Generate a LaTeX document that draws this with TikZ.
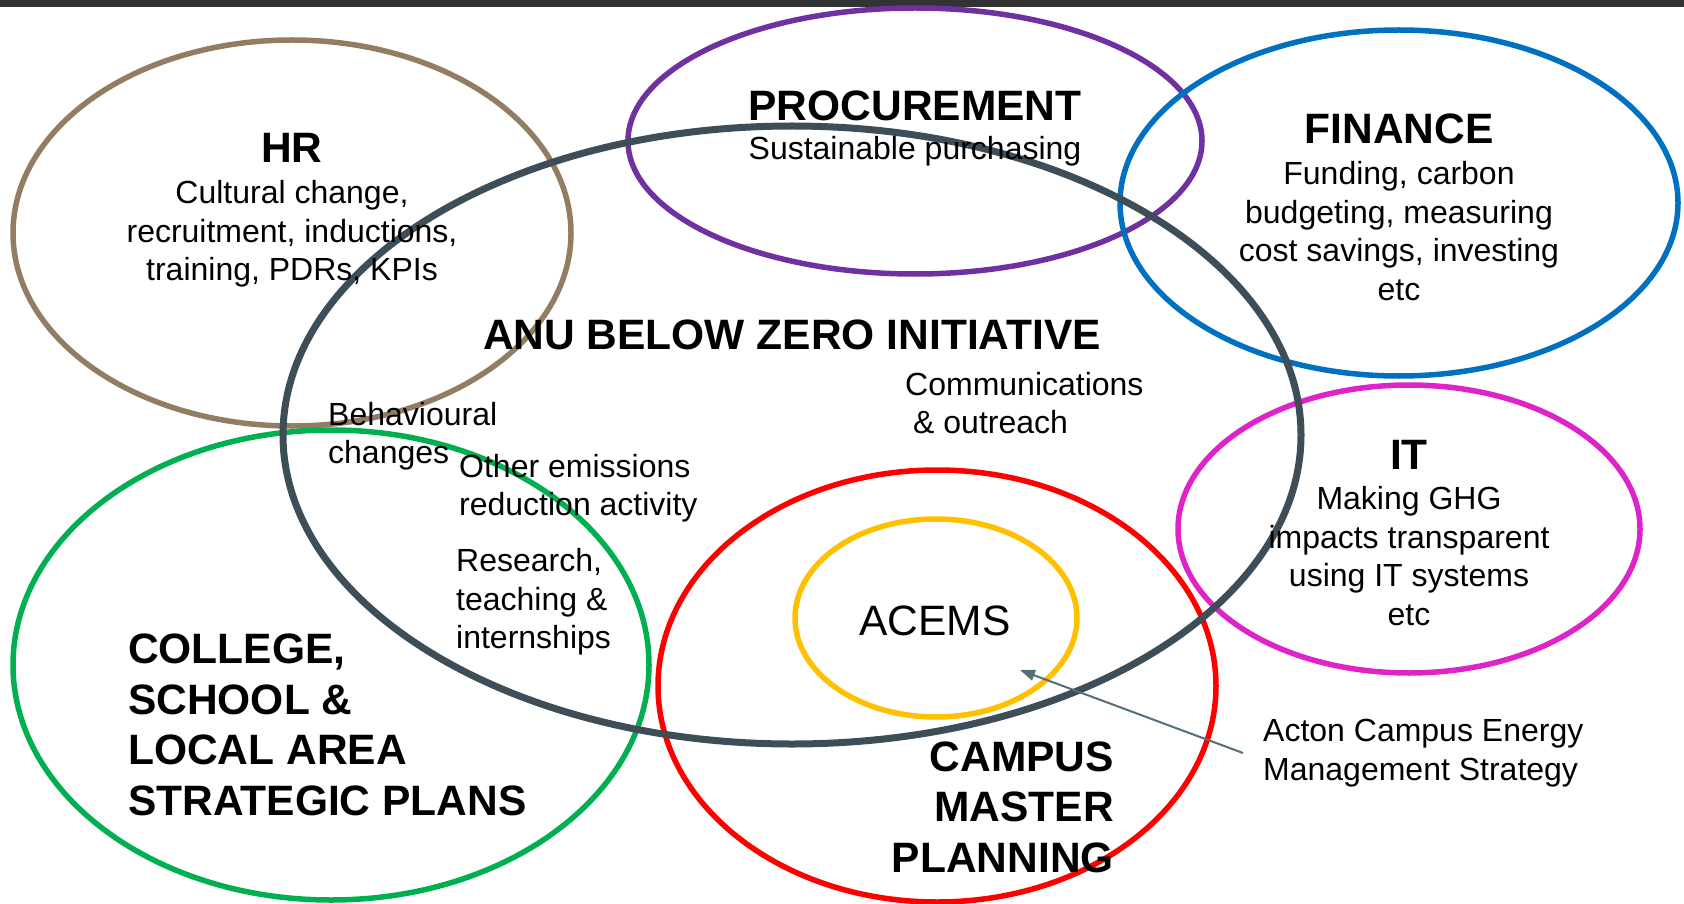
\documentclass[tikz,border=0pt]{standalone}
\usepackage{fontspec}
\setmainfont{Liberation Sans}
\usetikzlibrary{arrows.meta}

\definecolor{hrbrown}{RGB}{147,125,98}
\definecolor{procpurple}{RGB}{112,48,160}
\definecolor{finblue}{RGB}{0,112,192}
\definecolor{anuslate}{RGB}{61,78,88}
\definecolor{itmagenta}{RGB}{222,36,200}
\definecolor{collgreen}{RGB}{0,176,80}
\definecolor{campred}{RGB}{255,0,0}
\definecolor{acemsyellow}{RGB}{255,192,0}
\definecolor{arrowgrey}{RGB}{84,110,122}
\definecolor{topbar}{RGB}{51,51,51}

\newcommand{\headfont}{\fontsize{42.5}{50.5}\selectfont\bfseries}
\newcommand{\bodyfont}{\fontsize{32}{38.5}\selectfont}

\begin{document}
\begin{tikzpicture}[x=1pt,y=-1pt,
    ring/.style={line width=5.5pt},
    heading/.style={inner sep=0pt,font=\headfont,align=center},
    body/.style={inner sep=0pt,font=\bodyfont,align=center},
    bodyleft/.style={inner sep=0pt,font=\bodyfont,align=left},
    acemsarrow/.style={arrowgrey,line width=2pt,-{Triangle[length=15pt,width=11pt]}}]
    \useasboundingbox (0,0) rectangle (1684,904);
    \fill[topbar] (0,0) rectangle (1684,7);

    % the rings
    \draw[ring,hrbrown] (292,233) ellipse [x radius=279,y radius=193];
    \draw[ring,procpurple] (915,141) ellipse [x radius=287,y radius=133];
    \draw[ring,finblue] (1399,203) ellipse [x radius=279,y radius=173];
    \draw[ring,itmagenta] (1409,529) ellipse [x radius=231,y radius=144];
    \draw[ring,collgreen] (331,665) ellipse [x radius=318,y radius=235];
    \draw[ring,campred] (937,686) ellipse [x radius=279,y radius=216];
    \draw[ring,acemsyellow] (936,618) ellipse [x radius=141,y radius=99];
    \draw[line width=7pt,anuslate] (792,435) ellipse [x radius=509,y radius=309];

    % headings and notes
    \node[heading] (hr) at (292,148) {HR};
    \node[body] (hrnote) at (292,234) {Cultural change,\\recruitment, inductions,\\training, PDRs, KPIs};
    \node[heading] (proc) at (915,106) {PROCUREMENT};
    \node[body] (procnote) at (915,151) {Sustainable purchasing};
    \node[heading] (fin) at (1399,129) {FINANCE};
    \node[body] (finnote) at (1399,231) {Funding, carbon\\budgeting, measuring\\cost savings, investing\\etc};
    \node[heading] (anu) at (792,335) {ANU BELOW ZERO INITIATIVE};
    \node[bodyleft,anchor=west] (comms) at (905,403) {Communications\\\hspace{0.25em}\& outreach};
    \node[bodyleft,anchor=west] (behav) at (328,436) {Behavioural\\changes};
    \node[bodyleft,anchor=west] (other) at (459,488) {Other emissions\\reduction activity};
    \node[bodyleft,anchor=west] (research) at (456,602) {Research,\\teaching \&\\internships};
    \node[heading] (it) at (1409,455) {IT};
    \node[body] (itnote) at (1409,556) {Making GHG\\impacts transparent\\using IT systems\\etc};
    \node[heading,align=left,anchor=west] (college) at (128,725) {COLLEGE,\\SCHOOL \&\\LOCAL AREA\\STRATEGIC PLANS};
    \node[heading,align=right,anchor=east] (campus) at (1114,807) {CAMPUS\\MASTER\\PLANNING};
    \node[body,font=\fontsize{42.5}{50}\selectfont] (acems) at (935,621) {ACEMS};
    \coordinate (acemstip) at (1020,670);
    \node[bodyleft,anchor=west] (acton) at (1263,753) {Acton Campus Energy\\Management Strategy};
    \draw[acemsarrow] ([xshift=-20pt]acton.west) -- (acemstip);
\end{tikzpicture}
\end{document}
